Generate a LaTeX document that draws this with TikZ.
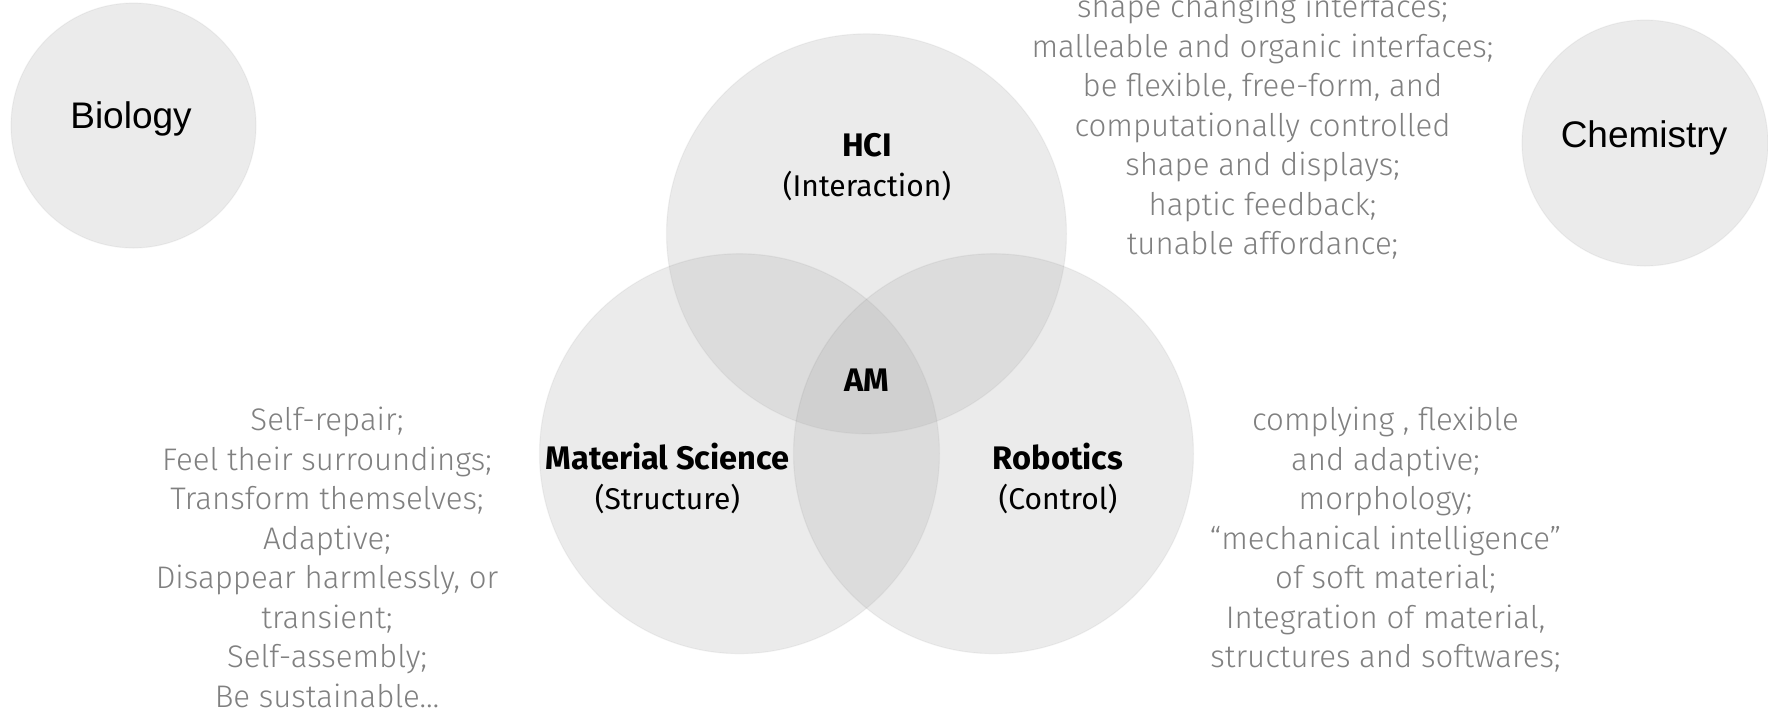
\documentclass[tikz,border=0pt]{standalone}
\usepackage{fontspec}
\setmainfont{Fira Sans}
\newfontfamily\lightfont{Fira Sans Light}
\newfontfamily\arialfont{Liberation Sans}
\definecolor{notegray}{gray}{0.5}
\definecolor{discfill}{gray}{0.68}
\newcommand{\bighead}[1]{{\fontsize{16.3}{20}\selectfont\bfseries #1}}
\begin{document}
\begin{tikzpicture}[x=0.5pt,y=-0.5pt,
  disc/.style={fill=discfill,fill opacity=0.24,draw=black,draw opacity=0.04,line width=0.6pt},
  field/.style={font=\arialfont\fontsize{18.5}{22}\selectfont,inner sep=0pt,anchor=base},
  head/.style={font=\fontsize{15}{20}\selectfont,align=center,inner sep=0pt,anchor=base},
  note/.style={font=\lightfont\fontsize{15.6}{19.75}\selectfont,text=notegray,align=center,inner sep=0pt,anchor=base}]
\useasboundingbox (0,0) rectangle (1768,713);
\fill[white] (0,0) rectangle (1768,713);

% outer fields
\path[disc] (133.5,125.5) circle[radius=122.5];
\path[disc] (1645,143) circle[radius=123];
\node[field] (bio) at (131,128) {Biology};
\node[field] (chem) at (1644,147.7) {Chemistry};

% three overlapping disciplines
\path[disc] (866.5,233.8) circle[radius=200];
\path[disc] (739.5,453.7) circle[radius=200];
\path[disc] (993.5,453.7) circle[radius=200];

% labels (the base anchor sits on the last line)
\node[head] (hci) at (867,196) {\bighead{HCI}\\(Interaction)};
\node[head] (am) at (866.5,391.5) {\bighead{AM}};
\node[head] (mat) at (667.5,509.7) {\bighead{Material Science}\\(Structure)};
\node[head] (rob) at (1058,509.7) {\bighead{Robotics}\\(Control)};

% properties of each field
\node[note] (hcinote) at (1262.5,254.8) {shape changing interfaces;\\malleable and organic interfaces;\\be flexible, free-form, and\\computationally controlled\\shape and displays;\\haptic feedback;\\tunable affordance;};
\node[note] (matnote) at (327,707.2) {Self-repair;\\Feel their surroundings;\\Transform themselves;\\Adaptive;\\Disappear harmlessly, or\\transient;\\Self-assembly;\\Be sustainable…};
\node[note] (robnote) at (1385.5,667.7) {complying , flexible\\and adaptive;\\morphology;\\“mechanical intelligence”\\of soft material;\\Integration of material,\\structures and softwares;};
\end{tikzpicture}
\end{document}
